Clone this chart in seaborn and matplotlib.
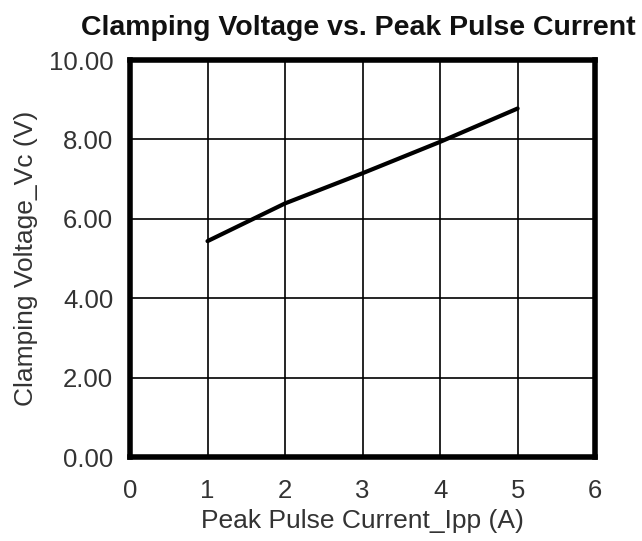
import matplotlib
matplotlib.use("Agg")
import matplotlib.pyplot as plt
import seaborn as sns
import pandas as pd

# Data
current_a = [1, 2, 3, 4, 5]
clamp_v = [5.44, 6.39, 7.15, 7.94, 8.78]
x_ticks = [0, 1, 2, 3, 4, 5, 6]
y_ticks = [0, 2, 4, 6, 8, 10]

sns.set_style("white")
plt.rcParams['font.family'] = ['Liberation Sans', 'DejaVu Sans']

df = pd.DataFrame({"Ipp": current_a, "Vc": clamp_v})

fig = plt.figure(figsize=(6.42, 5.41), dpi=100)
ax = fig.add_axes([0.2025, 0.155, 0.7245, 0.734])

sns.lineplot(data=df, x="Ipp", y="Vc", ax=ax, color="black", linewidth=3)

ax.set_xlim(0, 6)
ax.set_ylim(0, 10)
ax.set_xticks(x_ticks)
ax.set_yticks(y_ticks)
ax.set_yticklabels([f"{v:.2f}" for v in y_ticks])
ax.grid(True, color="black", linewidth=1.2)
ax.set_axisbelow(True)
for s in ax.spines.values():
    s.set_linewidth(4)
    s.set_color("black")
ax.tick_params(axis="both", labelsize=18.5, colors="#333333", length=0)
ax.tick_params(axis="x", pad=16)
ax.tick_params(axis="y", pad=12)

ax.set_xlabel("Peak Pulse Current_Ipp (A)", fontsize=19, color="#333333", labelpad=4)
ax.set_ylabel("Clamping Voltage_Vc (V)", fontsize=19, color="#333333", labelpad=8)
ax.set_title("Clamping Voltage vs. Peak Pulse Current", fontsize=20.5,
             fontweight="bold", color="#111111", pad=18, x=0.49)

fig.savefig("out.png", dpi=100)
